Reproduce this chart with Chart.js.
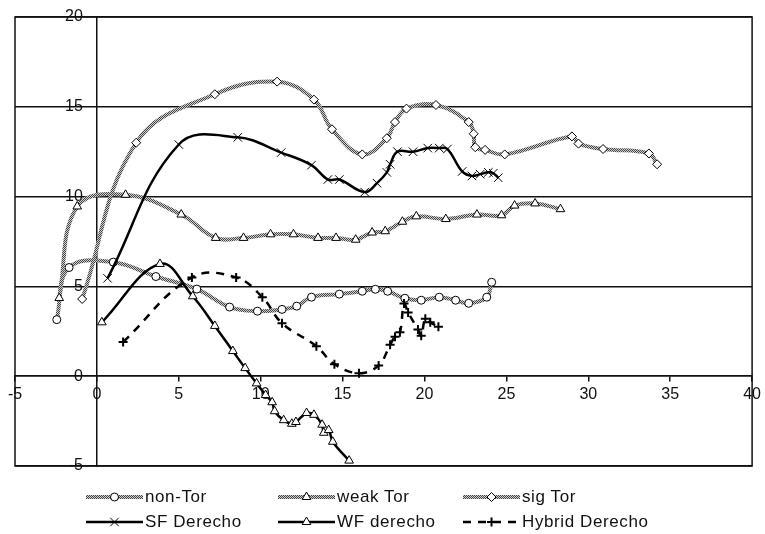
<!DOCTYPE html>
<html>
<head>
<meta charset="utf-8">
<title>Hodograph comparison</title>
<script src="https://cdn.jsdelivr.net/npm/chart.js@4/dist/chart.umd.min.js"></script>
<style>
  html, body { margin: 0; padding: 0; background: #fff; }
  #wrap { position: relative; width: 765px; height: 534px; }
  #chart { position: absolute; left: 0; top: 0; }
  .lg { position: absolute; display: flex; align-items: center; height: 18px;
        font-family: "Liberation Sans", Arial, sans-serif; font-size: 17px;
        letter-spacing: 0.6px; color: #111; white-space: nowrap; }
  .lg canvas { margin-right: 2px; }
</style>
</head>
<body>
<div id="wrap">
  <canvas id="chart" width="765" height="534"></canvas>
</div>
<script>
// ---- series values (x, y pairs per series) ----
const nonTorX = [-2.45, -1.7, 1.0, 3.6, 6.1, 8.1, 9.8, 11.3, 12.2, 13.1, 14.8, 16.2, 17.0, 17.75, 18.8, 19.8, 20.9, 21.9, 22.7, 23.8, 24.1];
const nonTorY = [3.15, 6.05, 6.35, 5.55, 4.85, 3.85, 3.62, 3.72, 3.9, 4.4, 4.57, 4.73, 4.84, 4.73, 4.34, 4.23, 4.4, 4.23, 4.06, 4.4, 5.23];

const weakTorX = [-2.3, -1.2, 1.75, 5.15, 7.25, 8.95, 10.6, 12.0, 13.5, 14.6, 15.8, 16.8, 17.6, 18.65, 19.5, 21.3, 23.2, 24.7, 25.5, 26.75, 28.3];
const weakTorY = [4.35, 9.45, 10.1, 9.0, 7.7, 7.7, 7.9, 7.9, 7.7, 7.7, 7.6, 8.0, 8.07, 8.6, 8.9, 8.75, 9.0, 8.96, 9.5, 9.62, 9.3];

const sigTorX = [-0.9, 2.4, 7.2, 11.0, 13.25, 14.35, 16.2, 17.7, 18.2, 18.9, 20.7, 22.7, 23.0, 23.1, 23.7, 24.9, 29.0, 29.4, 30.9, 33.7, 34.2];
const sigTorY = [4.3, 13.0, 15.7, 16.4, 15.4, 13.75, 12.35, 13.25, 14.15, 14.9, 15.1, 14.15, 13.5, 12.75, 12.6, 12.35, 13.35, 12.95, 12.65, 12.4, 11.8];

const sfDerechoX = [0.65, 5.0, 8.6, 11.25, 13.1, 14.1, 14.8, 16.35, 17.1, 17.7, 17.9, 18.35, 19.3, 20.2, 20.9, 21.4, 22.3, 22.9, 23.4, 23.9, 24.2, 24.5];
const sfDerechoY = [5.45, 12.9, 13.3, 12.45, 11.75, 10.95, 10.95, 10.25, 10.75, 11.35, 11.8, 12.5, 12.5, 12.7, 12.7, 12.65, 11.4, 11.15, 11.25, 11.35, 11.3, 11.05];

const wfDerechoX = [0.3, 3.85, 5.85, 7.2, 8.3, 9.05, 9.75, 10.3, 10.7, 10.85, 11.4, 11.9, 12.15, 12.8, 13.25, 13.75, 13.85, 14.15, 14.4, 15.4];
const wfDerechoY = [3.0, 6.25, 4.45, 2.8, 1.4, 0.45, -0.4, -1.05, -1.45, -1.95, -2.45, -2.65, -2.55, -2.05, -2.15, -2.7, -3.15, -3.0, -3.65, -4.7];

const hybridX = [1.6, 5.8, 8.5, 10.1, 11.3, 13.4, 14.5, 16.0, 17.2, 17.9, 18.2, 18.5, 18.75, 19.0, 19.6, 19.8, 20.05, 20.35, 20.85];
const hybridY = [1.9, 5.5, 5.5, 4.4, 2.95, 1.67, 0.67, 0.17, 0.6, 1.75, 2.2, 2.45, 4.05, 3.55, 2.6, 2.25, 3.2, 3.0, 2.75];

const seriesNames = ['non-Tor', 'weak Tor', 'sig Tor', 'SF Derecho', 'WF derecho', 'Hybrid Derecho'];

// ---- axis ticks ----
const xTicks = [-5, 0, 5, 10, 15, 20, 25, 30, 35, 40];
const yTicks = [-5, 0, 5, 10, 15, 20];

function pairs(xs, ys) { return xs.map((x, i) => ({ x: x, y: ys[i] })); }

const canvas = document.getElementById('chart');
const ctx = canvas.getContext('2d');

// fine grey/white mesh used for the tornado-class lines
function meshPattern(c) {
  const tile = document.createElement('canvas');
  tile.width = 2; tile.height = 2;
  const t = tile.getContext('2d');
  t.fillStyle = '#d0d0d0'; t.fillRect(0, 0, 2, 2);
  t.fillStyle = '#444444'; t.fillRect(0, 0, 1, 1); t.fillRect(1, 1, 1, 1);
  return c.createPattern(tile, 'repeat');
}
const mesh = meshPattern(ctx);

const styles = [
  { line: mesh, width: 4, dash: [], point: 'circle', r: 4, fill: '#fff', pw: 1 },
  { line: mesh, width: 4, dash: [], point: 'triangle', r: 5, fill: '#fff', pw: 1 },
  { line: mesh, width: 4, dash: [], point: 'rectRot', r: 4.5, fill: '#fff', pw: 1 },
  { line: '#000', width: 2.5, dash: [], point: 'crossRot', r: 6, fill: '#000', pw: 1 },
  { line: '#000', width: 2.5, dash: [], point: 'triangle', r: 5, fill: '#fff', pw: 1 },
  { line: '#000', width: 2.5, dash: [8, 7], point: 'cross', r: 4.5, fill: '#000', pw: 2 }
];

const seriesData = [
  pairs(nonTorX, nonTorY),
  pairs(weakTorX, weakTorY),
  pairs(sigTorX, sigTorY),
  pairs(sfDerechoX, sfDerechoY),
  pairs(wfDerechoX, wfDerechoY),
  pairs(hybridX, hybridY)
];

const datasets = seriesData.map((d, i) => ({
  label: seriesNames[i],
  data: d,
  order: seriesData.length - i,
  borderColor: styles[i].line,
  borderWidth: styles[i].width,
  borderDash: styles[i].dash,
  tension: 0.4,
  fill: false,
  pointStyle: styles[i].point,
  pointRadius: styles[i].r,
  pointHoverRadius: styles[i].r,
  pointBackgroundColor: styles[i].fill,
  pointBorderColor: '#000',
  pointBorderWidth: styles[i].pw
}));

const fontFamily = "'Liberation Sans', Arial, sans-serif";
const tickFont = { family: fontFamily, size: 16 };

// outline around the plot area
const frame = {
  id: 'frame',
  afterDraw(chart) {
    const a = chart.chartArea, c = chart.ctx;
    c.save();
    c.strokeStyle = '#111';
    c.lineWidth = 1.5;
    c.strokeRect(a.left, a.top, a.right - a.left, a.bottom - a.top);
    c.restore();
  }
};

// value labels for the vertical axis, set off to the left of the axis line at x = 0
const yLabels = {
  id: 'yLabels',
  beforeDatasetsDraw(chart) {
    const c = chart.ctx, ys = chart.scales.y, xs = chart.scales.x;
    const axisX = xs.getPixelForValue(0);
    c.save();
    c.font = '16px ' + fontFamily;
    c.fillStyle = '#111';
    c.textAlign = 'right';
    c.textBaseline = 'middle';
    yTicks.forEach(v => c.fillText(String(v), axisX - 14, ys.getPixelForValue(v)));
    c.restore();
  }
};

const chart = new Chart(ctx, {
  type: 'line',
  data: { datasets: datasets },
  options: {
    responsive: false,
    animation: false,
    layout: { padding: { left: 15, top: 17, right: 10, bottom: 68 } },
    plugins: { legend: { display: false }, tooltip: { enabled: false } },
    scales: {
      x: {
        type: 'linear',
        min: xTicks[0], max: xTicks[xTicks.length - 1],
        position: { y: 0 },
        afterBuildTicks(s) { s.ticks = xTicks.map(v => ({ value: v })); },
        ticks: { color: '#111', font: tickFont, padding: 4, autoSkip: false, maxRotation: 0 },
        grid: { drawOnChartArea: false, drawTicks: true, tickLength: 5, color: '#111', lineWidth: 1.5 },
        border: { color: '#111', width: 1.5 }
      },
      y: {
        type: 'linear',
        min: yTicks[0], max: yTicks[yTicks.length - 1],
        position: { x: 0 },
        afterBuildTicks(s) { s.ticks = yTicks.map(v => ({ value: v })); },
        ticks: { display: false },
        grid: { color: '#111', lineWidth: 1.5, drawTicks: false },
        border: { color: '#111', width: 1.5 }
      }
    }
  },
  plugins: [frame, yLabels]
});

// legend: two rows of three entries below the plot
const legendCols = [86, 278, 463];
const legendRows = [497, 522];
const wrap = document.getElementById('wrap');
seriesNames.forEach((name, i) => {
  const item = document.createElement('div');
  item.className = 'lg';
  item.style.left = legendCols[i % 3] + 'px';
  item.style.top = (legendRows[Math.floor(i / 3)] - 9) + 'px';
  const sw = document.createElement('canvas');
  sw.width = 57; sw.height = 18;
  const s = sw.getContext('2d');
  const st = styles[i];
  s.strokeStyle = st.line === mesh ? meshPattern(s) : st.line;
  s.lineWidth = st.width;
  s.setLineDash(st.dash);
  s.beginPath(); s.moveTo(0, 9); s.lineTo(57, 9); s.stroke();
  s.setLineDash([]);
  s.fillStyle = st.fill; s.strokeStyle = '#000'; s.lineWidth = st.pw;
  Chart.helpers.drawPoint(s, { pointStyle: st.point, radius: st.r, rotation: 0, borderWidth: st.pw }, 28.5, 9);
  const label = document.createElement('span');
  label.textContent = name;
  item.appendChild(sw);
  item.appendChild(label);
  wrap.appendChild(item);
});
</script>
</body>
</html>
